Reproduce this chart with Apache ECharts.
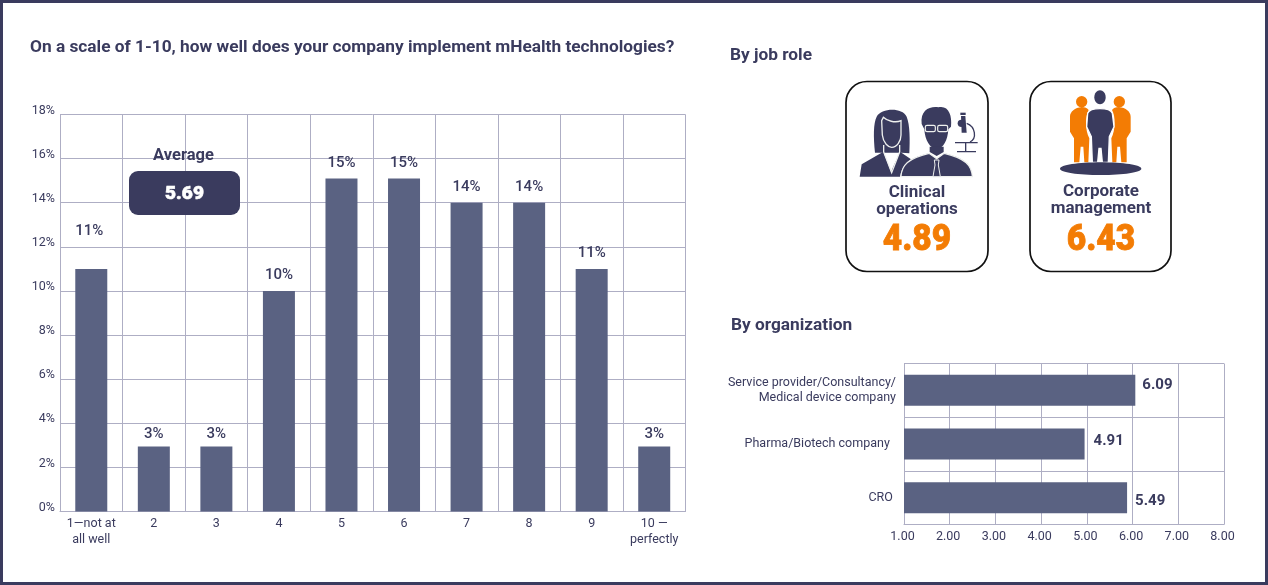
<!DOCTYPE html>
<html><head><meta charset="utf-8">
<style>html,body{margin:0;padding:0;background:#fff}#c{width:1268px;height:585px}</style>
<script src="https://cdn.jsdelivr.net/npm/echarts@6/dist/echarts.min.js"></script>
</head><body><div id="c"></div>
<script>
const scoreCategories = ['1—not at\nall well','2','3','4','5','6','7','8','9','10 —\nperfectly'];
const scoreValues = [11,2.95,2.95,10,15.1,15.1,14,14,11,2.95];
const scoreLabels = ['11%','3%','3%','10%','15%','15%','14%','14%','11%','3%'];
const orgCategories = ['Service provider/Consultancy/\nMedical device company','Pharma/Biotech company  ','CRO '];
const orgBarValues = [6.06,4.95,5.88];
const orgLabels = ['6.09','4.91','5.49'];
const averageValue = '5.69';
const roleNames = ['Clinical\noperations','Corporate\nmanagement'];
const roleValues = ['4.89','6.43'];

const NAVY='#3a3b5e', BAR='#5a6282', GRID='#aeaec4', ORANGE='#f37c04', F='Roboto';
const chart = echarts.init(document.getElementById('c'),null,{renderer:'canvas'});
let pathCount=0;
const ICON_Z=30;
const P=(d,style)=>{const name='iconPath'+(pathCount++);echarts.graphic.registerShape(name,echarts.graphic.extendPath(d,{}));return {type:name,z:ICON_Z,style};};
const txt=(x,y,text,size,fill,weight,align,sx,extra)=>({type:'text',z:20,x,y,scaleX:sx||1,style:Object.assign({text,fill,font:`${weight||'bold'} ${size}px ${F}`,align:align||'center',verticalAlign:'middle',lineHeight:Math.round(size*1.1)},extra||{})});
const card=(x,w)=>({type:'rect',z:5,shape:{x,y:81.5,width:w,height:190,r:21},style:{fill:'#fff',stroke:'#111',lineWidth:1.7}});
const EDGE='#eef0ee';
const S=(type,shape,style)=>({type,z:ICON_Z,shape,style});
const iconClinical={type:'group',x:855,y:100,scaleX:1/3,scaleY:1/3,children:[
 P('M60,158 C55,110 55,70 65,50 C78,25 140,20 155,50 C165,75 165,120 163,160 L140,158 L80,158 Z',{fill:NAVY}),
 P('M14,230 L20,193 L85,155 L108,215 L135,155 L168,178 C150,190 140,205 135,230 Z',{fill:NAVY}),
 P('M80,62 L82,105 C85,130 100,142 110,142 C125,142 138,125 138,105 L138,62 C120,70 95,62 85,52 Z',{fill:NAVY,stroke:EDGE,lineWidth:4}),
 P('M86,135 L86,156 L110,218 L134,156 L134,135',{fill:'none',stroke:EDGE,lineWidth:4}),
 P('M200,72 C195,30 225,18 250,22 C280,15 292,45 288,80 L280,88 C278,122 265,145 245,148 C225,145 210,122 208,88 Z',{fill:NAVY}),
 S('rect',{x:211,y:76,width:30,height:19,r:5},{fill:NAVY,stroke:EDGE,lineWidth:3.5}),
 S('rect',{x:248,y:76,width:30,height:19,r:5},{fill:NAVY,stroke:EDGE,lineWidth:3.5}),
 P('M138,230 C140,195 160,175 222,160 L245,176 L268,160 C330,175 350,195 352,230 Z',{fill:NAVY,stroke:EDGE,lineWidth:3.5}),
 P('M224,140 L266,140 L266,156 L245,168 L224,156 Z',{fill:NAVY}),
 P('M238,180 L252,180 L250,195 L256,230 L234,230 L240,195 Z',{fill:NAVY,stroke:EDGE,lineWidth:3}),
 S('rect',{x:316,y:38,width:16,height:7},{fill:NAVY}),
 P('M318,48 L331,48 L335,98 L320,98 Z',{fill:NAVY}),
 S('circle',{cx:319,cy:70,r:11},{fill:NAVY}),
 P('M335,70 C362,80 366,116 345,126',{fill:'none',stroke:NAVY,lineWidth:4}),
 P('M300,128 L368,128 M332,128 L332,155 M306,155 L363,155',{fill:'none',stroke:NAVY,lineWidth:4})
]};
const ORANGE_P='M60,95 C60,80 75,68 95,66 C105,66 112,70 116,75 C105,95 105,135 118,160 L115,232 L103,232 L100,185 L92,185 L88,232 L72,232 L72,160 L60,140 Z';
const iconCorp={type:'group',x:1050,y:85,scaleX:1/3,scaleY:1/3,children:[
 S('circle',{cx:95,cy:50,r:17},{fill:ORANGE}),
 S('circle',{cx:208,cy:50,r:17},{fill:ORANGE}),
 P(ORANGE_P,{fill:ORANGE}),
 {type:'group',x:302,scaleX:-1,children:[P(ORANGE_P,{fill:ORANGE})]},
 P('M113,85 C120,66 180,66 187,85 L192,125 L178,155 L175,232 L157,232 L153,190 L147,190 L143,232 L127,232 L124,155 L110,125 Z',{fill:NAVY,stroke:'#fff',lineWidth:4}),
 S('ellipse',{cx:150,cy:37,rx:17,ry:21},{fill:NAVY}),
 S('ellipse',{cx:152,cy:251,rx:122,ry:19},{fill:NAVY})
]};

const scoreLabelStyle=(v,i)=>{
  if(i===0) return {value:v,label:{distance:30,offset:[-2,0]}};
  if(v<3) return {value:v,label:{distance:5}};
  return v;
};
const orgOffsets=[[0,-5],[2,-3],[1,4]];
const option={
 animation:false,
 textStyle:{fontFamily:F},
 grid:[
  {left:60,top:114.5,width:625.5,height:397,containLabel:false},
  {left:904,top:363.5,width:320,height:161,containLabel:false}
 ],
 xAxis:[
  {gridIndex:0,type:'category',data:scoreCategories,boundaryGap:true,
   axisLine:{lineStyle:{color:GRID,width:1}},axisTick:{show:false},
   splitLine:{show:true,lineStyle:{color:GRID,width:1}},
   axisLabel:{color:NAVY,fontSize:12.5,fontFamily:F,margin:4,lineHeight:16,interval:0}},
  {gridIndex:1,type:'value',min:1,max:8,interval:1,
   axisLine:{show:true,lineStyle:{color:GRID}},axisTick:{show:false},
   splitLine:{show:true,lineStyle:{color:GRID,width:1}},
   axisLabel:{color:NAVY,fontSize:12.5,fontFamily:F,margin:6,padding:[0,3,0,0],formatter:v=>v.toFixed(2)}}
 ],
 yAxis:[
  {gridIndex:0,type:'value',min:0,max:18,interval:2,
   axisLine:{show:true,lineStyle:{color:GRID}},axisTick:{show:false},
   splitLine:{show:true,lineStyle:{color:GRID,width:1}},
   axisLabel:{color:NAVY,fontSize:12.5,fontFamily:F,margin:5,verticalAlign:'bottom',lineHeight:8,formatter:'{value}%'}},
  {gridIndex:1,type:'category',inverse:true,data:orgCategories,
   axisLine:{show:true,lineStyle:{color:GRID}},axisTick:{show:false},
   splitLine:{show:true,lineStyle:{color:GRID,width:1}},
   axisLabel:{color:NAVY,fontSize:12.5,fontFamily:F,margin:8,lineHeight:15,interval:0}}
 ],
 series:[
  {type:'bar',xAxisIndex:0,yAxisIndex:0,barWidth:32,itemStyle:{color:BAR},
   data:scoreValues.map(scoreLabelStyle),
   label:{show:true,position:'top',distance:8,color:NAVY,fontSize:15,fontWeight:500,fontFamily:F,
     formatter:p=>scoreLabels[p.dataIndex]}},
  {type:'bar',xAxisIndex:1,yAxisIndex:1,barWidth:31,itemStyle:{color:BAR},
   data:orgBarValues.map((v,i)=>({value:v,label:{offset:orgOffsets[i]}})),
   label:{show:true,position:'right',distance:7,color:NAVY,fontSize:15,fontWeight:'bold',fontFamily:F,
     formatter:p=>orgLabels[p.dataIndex]}}
 ],
 graphic:{elements:[
  {type:'rect',z:1,silent:true,shape:{x:1.5,y:1.5,width:1265,height:582},style:{fill:'none',stroke:NAVY,lineWidth:3}},
  txt(30,48,'On a scale of 1-10, how well does your company implement mHealth technologies?',17.3,NAVY,'bold','left'),
  txt(730,55.5,'By job role',17.3,NAVY,'bold','left'),
  txt(731,325.5,'By organization',17.3,NAVY,'bold','left'),
  txt(183.5,156,'Average',16.5,NAVY,'bold'),
  {type:'rect',z:10,shape:{x:129,y:171,width:111,height:44,r:9},style:{fill:NAVY}},
  txt(184.5,194,averageValue,19,'#fff','900','center',1,{stroke:'#fff',lineWidth:0.6}),
  card(846,142),card(1030,141),
  txt(917,201.5,roleNames[0],17,NAVY,'bold','center',1,{lineHeight:17}),
  txt(1101,200.5,roleNames[1],17,NAVY,'bold','center',1,{lineHeight:17}),
  txt(917,240.5,roleValues[0],36,ORANGE,'900','center',0.93,{stroke:ORANGE,lineWidth:0.8}),
  txt(1101,240.5,roleValues[1],36,ORANGE,'900','center',0.93,{stroke:ORANGE,lineWidth:0.8}),
  iconClinical,iconCorp
 ]}
};
chart.setOption(option);
</script></body></html>
